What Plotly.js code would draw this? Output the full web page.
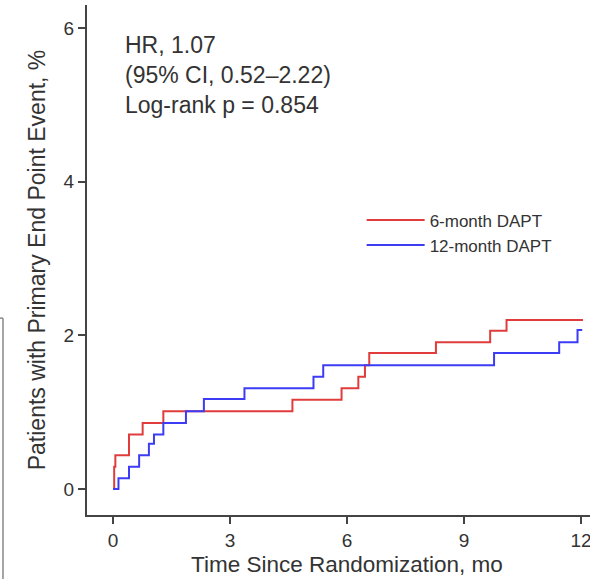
<!DOCTYPE html>
<html>
<head>
<meta charset="utf-8">
<script src="https://cdn.plot.ly/plotly-3.0.1.min.js"></script>
<style>html,body{margin:0;padding:0;background:#fff;}#chart{width:590px;height:579px;}</style>
</head>
<body>
<div id="chart"></div>
<script>
// Kaplan-Meier style cumulative event curves (step after each time)
const sixMonthTime  = [0, 0.03, 0.06, 0.41, 0.76, 1.29, 4.60, 5.86, 6.29, 6.46, 6.57, 8.28, 9.67, 10.09, 12.05];
const sixMonthPct   = [0, 0.29, 0.44, 0.71, 0.86, 1.01, 1.16, 1.31, 1.46, 1.61, 1.77, 1.91, 2.06, 2.20, 2.20];
const twelveMonthTime = [0, 0.14, 0.41, 0.67, 0.92, 1.05, 1.29, 1.87, 2.33, 3.37, 5.14, 5.39, 9.77, 11.44, 11.91, 12.03];
const twelveMonthPct  = [0, 0.14, 0.29, 0.44, 0.59, 0.71, 0.86, 1.01, 1.17, 1.31, 1.46, 1.61, 1.77, 1.91, 2.07, 2.07];
const seriesNames = ["6-month DAPT", "12-month DAPT"];
const xTicks = [0, 3, 6, 9, 12];
const yTicks = [0, 2, 4, 6];
const statsLines = ["HR, 1.07", "(95% CI, 0.52\u20132.22)", "Log-rank p = 0.854"];

const FONT = "Liberation Sans, Arial, sans-serif";
const traces = [
  {x: sixMonthTime, y: sixMonthPct, name: seriesNames[0], type: "scatter", mode: "lines",
   line: {shape: "hv", color: "#e03c3c", width: 2}},
  {x: twelveMonthTime, y: twelveMonthPct, name: seriesNames[1], type: "scatter", mode: "lines",
   line: {shape: "hv", color: "#3c3cf5", width: 2}}
];
const axisCommon = {
  showgrid: false, zeroline: false, showline: true, linecolor: "#444", linewidth: 2,
  ticks: "outside", ticklen: 7, tickwidth: 2, tickcolor: "#444",
  ticklabeloverflow: "allow",
  tickfont: {family: FONT, size: 19, color: "#333"}
};
const layout = {
  width: 590, height: 579,
  margin: {l: 87, r: 0, t: 5, b: 64},
  paper_bgcolor: "#fff", plot_bgcolor: "#fff",
  showlegend: true,
  legend: {x: 0.546, y: 0.613, xanchor: "left", yanchor: "top", bgcolor: "rgba(0,0,0,0)",
           font: {family: FONT, size: 17, color: "#333"}, itemwidth: 58, tracegroupgap: 0},
  xaxis: Object.assign({}, axisCommon, {range: [-0.667, 12.23], tickvals: xTicks, ticktext: xTicks.map(String)}),
  yaxis: Object.assign({}, axisCommon, {range: [-0.339, 6.30], tickvals: yTicks, ticktext: yTicks.map(String),
    title: {text: "Patients with Primary End Point Event, %", font: {family: FONT, size: 23, color: "#333"}, standoff: 12}}),
  annotations: [
    {xref: "paper", yref: "paper", x: 0.0716, y: 0.951, xanchor: "left", yanchor: "top", align: "left", showarrow: false,
     text: statsLines.join("<br>"), font: {family: FONT, size: 23, color: "#333"}},
    {xref: "x", yref: "paper", x: 6, y: -0.098, xanchor: "center", yanchor: "middle", showarrow: false,
     text: "Time Since Randomization, mo", font: {family: FONT, size: 22.5, color: "#333"}}
  ],
  shapes: [
    {type: "line", xref: "paper", yref: "paper", x0: -0.167, x1: -0.167, y0: 0.386, y1: -0.13, line: {color: "#888", width: 1.5}},
    {type: "line", xref: "paper", yref: "paper", x0: -0.175, x1: -0.167, y0: 0.386, y1: 0.386, line: {color: "#888", width: 1.5}}
  ]
};
Plotly.newPlot("chart", traces, layout, {displayModeBar: false, staticPlot: true});
</script>
</body>
</html>
